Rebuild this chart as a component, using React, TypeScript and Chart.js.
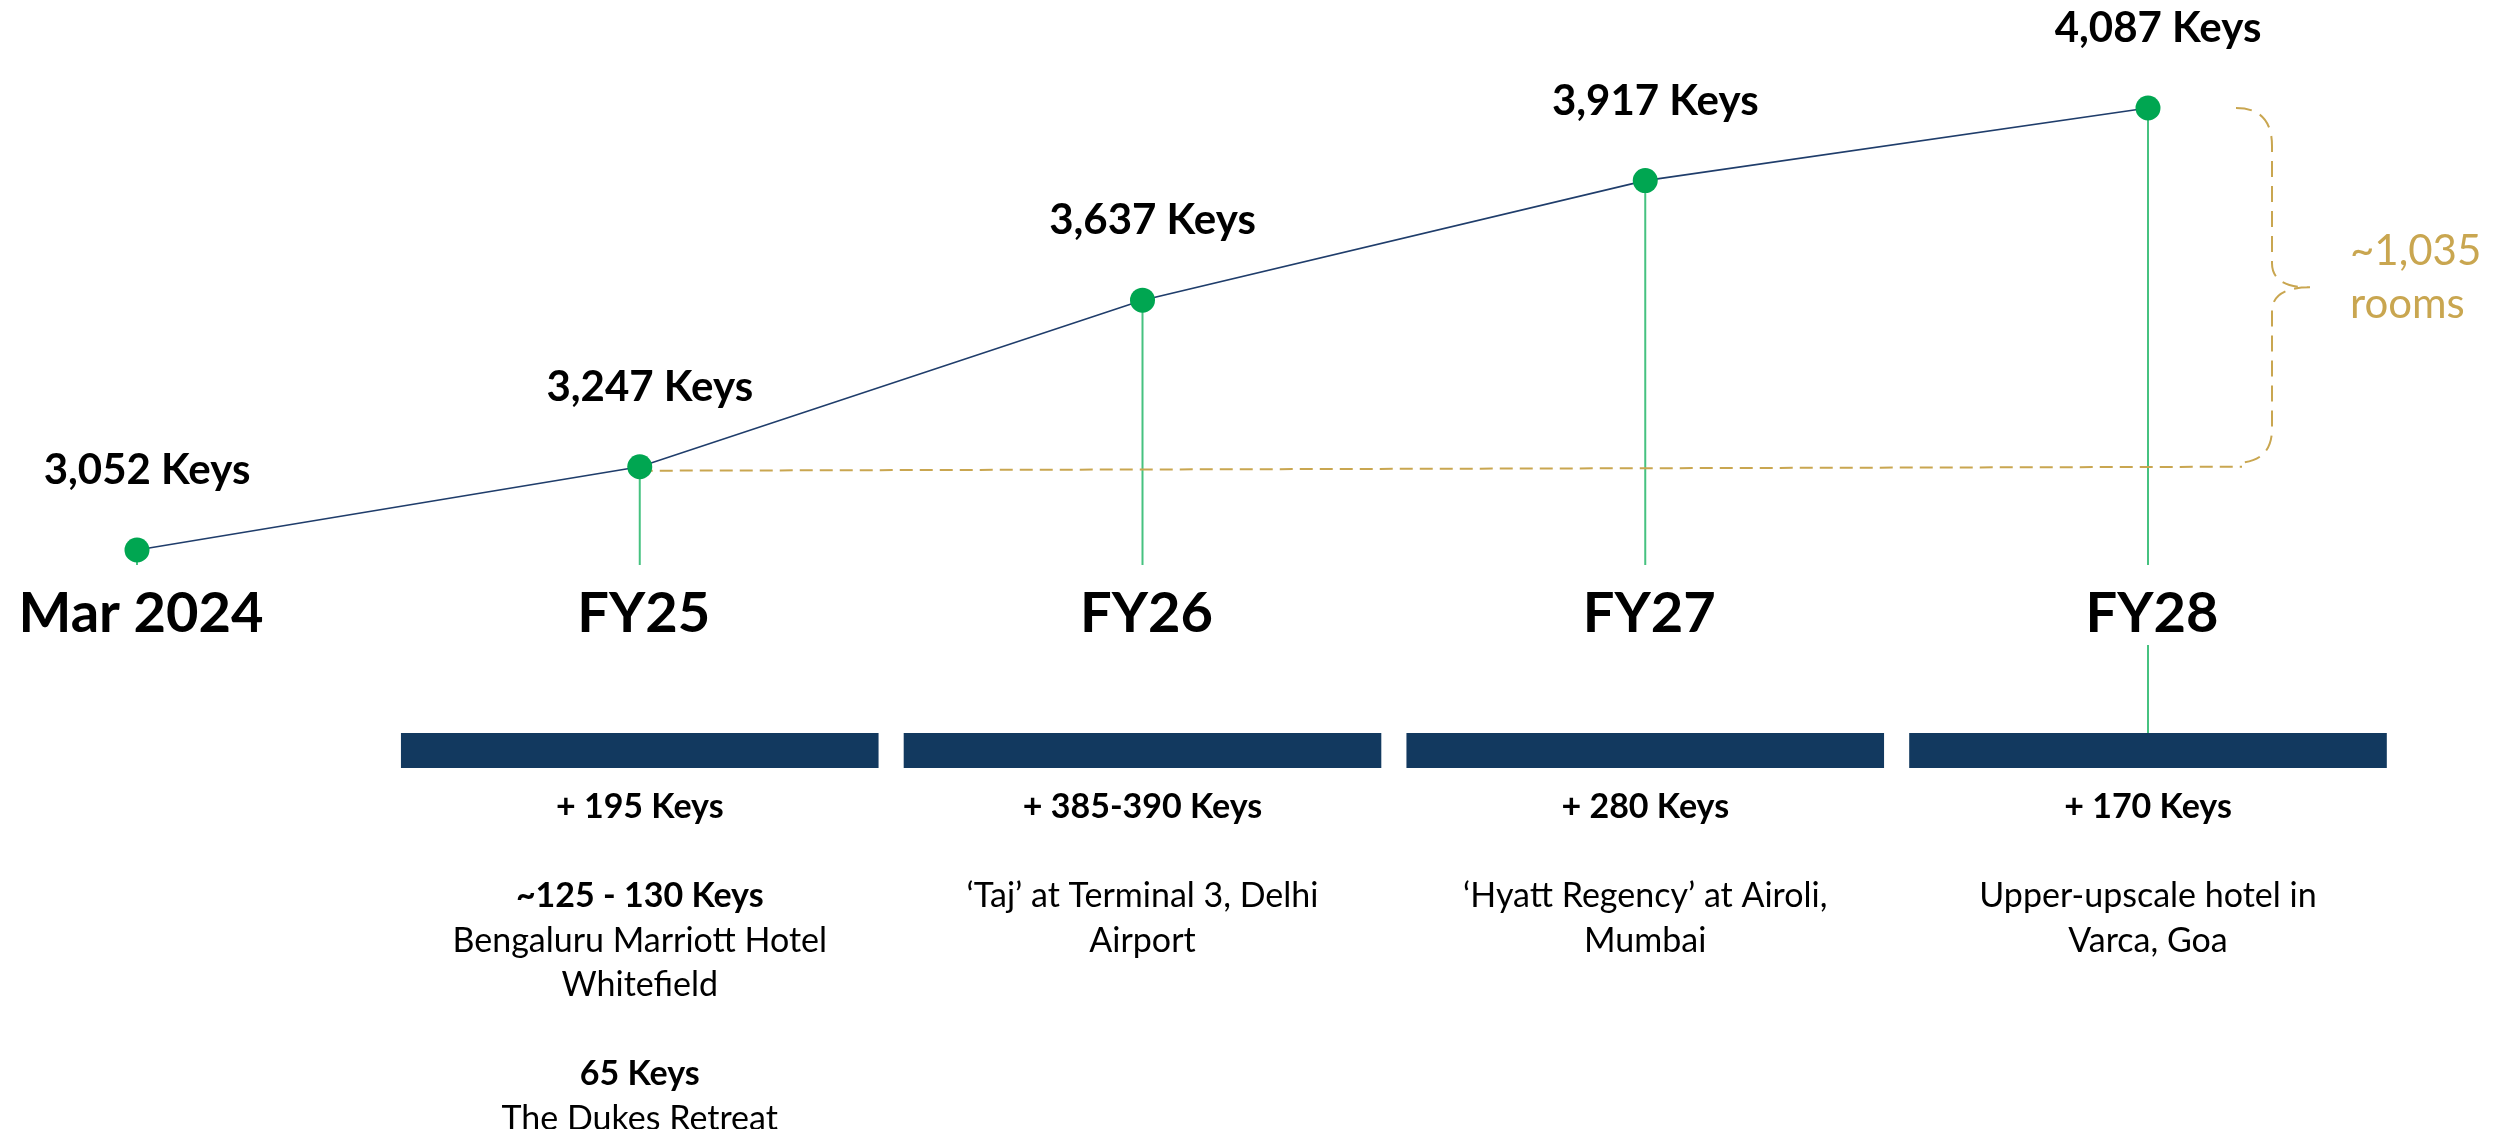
import React, { useEffect, useRef } from 'react';
import { Chart, registerables } from 'chart.js';

Chart.register(...registerables);

// ---------- data ----------
const categories = ['Mar 2024', 'FY25', 'FY26', 'FY27', 'FY28'];
const keyCounts = [3052, 3247, 3637, 3917, 4087];
const addedKeys = ['+ 195 Keys', '+ 385-390 Keys', '+ 280 Keys', '+ 170 Keys'];
// "**" prefix marks a bold line, "" is an empty line
const fy25Projects = ['**~125 - 130 Keys', 'Bengaluru Marriott Hotel', 'Whitefield', '', '**65 Keys', 'The Dukes Retreat'];
const fy26Projects = ['‘Taj’ at Terminal 3, Delhi', 'Airport'];
const fy27Projects = ['‘Hyatt Regency’ at Airoli,', 'Mumbai'];
const fy28Projects = ['Upper-upscale hotel in', 'Varca, Goa'];
const projectLists = [fy25Projects, fy26Projects, fy27Projects, fy28Projects];
const increaseUnit = 'rooms';

// ---------- styles ----------
const FONT = 'Lato, "Open Sans", sans-serif';
const NAVY = '#12395F';
const LINE = '#1F3D6B';
const GREEN = '#00A651';
const STEM = '#46C280';
const GOLD = '#C9A650';

const overlayPlugin = {
  id: 'overlay',
  beforeDatasetsDraw(chart: any) {
    const ctx = chart.ctx as CanvasRenderingContext2D;
    const xs = chart.scales.x;
    const ys = chart.scales.y;
    const px = (i: number) => xs.getPixelForValue(i);
    const py = (i: number) => ys.getPixelForValue(keyCounts[i]);
    const n = keyCounts.length;
    const spacing = px(1) - px(0);

    const STEM_END = 557;
    const BAR_TOP = 725;
    const BAR_H = 35;

    ctx.save();
    // stems
    ctx.strokeStyle = STEM;
    ctx.lineWidth = 2;
    for (let i = 0; i < n; i++) {
      ctx.beginPath();
      ctx.moveTo(px(i), py(i));
      ctx.lineTo(px(i), STEM_END);
      ctx.stroke();
    }
    // connector from last label to its bar
    ctx.beginPath();
    ctx.moveTo(px(n - 1), 637);
    ctx.lineTo(px(n - 1), BAR_TOP);
    ctx.stroke();

    // dashed reference line from FY25 level + brace
    const lastX = px(n - 1);
    const yTop = py(n - 1);
    const yBot = py(1);
    const xv = lastX + 124;
    const x0 = lastX + 88;
    const xt = lastX + 162;
    const mid = (yTop + yBot) / 2;
    const r = 38;
    ctx.strokeStyle = GOLD;
    ctx.lineWidth = 2;
    ctx.setLineDash([13, 7]);
    ctx.beginPath();
    ctx.moveTo(px(1), yBot + 4);
    ctx.lineTo(x0 + 6, yBot);
    ctx.stroke();
    ctx.setLineDash([16, 9]);
    ctx.beginPath();
    ctx.moveTo(x0, yTop);
    ctx.quadraticCurveTo(xv, yTop, xv, yTop + r);
    ctx.lineTo(xv, mid - 24);
    ctx.quadraticCurveTo(xv, mid, xt, mid);
    ctx.moveTo(xt, mid);
    ctx.quadraticCurveTo(xv, mid, xv, mid + 24);
    ctx.lineTo(xv, yBot - r);
    ctx.quadraticCurveTo(xv, yBot - 4, x0, yBot - 4);
    ctx.stroke();
    ctx.setLineDash([]);

    // increase text
    const increase = keyCounts[n - 1] - keyCounts[0];
    ctx.fillStyle = GOLD;
    ctx.font = `42px ${FONT}`;
    ctx.textAlign = 'left';
    ctx.textBaseline = 'alphabetic';
    ctx.fillText('~' + increase.toLocaleString('en-US'), lastX + 202, mid - 22);
    ctx.fillText(increaseUnit, lastX + 202, mid + 31);

    // bars + texts
    const barW = spacing * 0.95;
    for (let i = 1; i < n; i++) {
      const cx = px(i);
      ctx.fillStyle = NAVY;
      ctx.fillRect(cx - barW / 2, BAR_TOP, barW, BAR_H);
      ctx.fillStyle = '#000';
      ctx.textAlign = 'center';
      const LINE_H = 44.5;
      let y = 810;
      ctx.font = `bold 34px ${FONT}`;
      ctx.fillText(addedKeys[i - 1], cx, y);
      y += LINE_H * 2;
      for (const line of projectLists[i - 1]) {
        if (line) {
          const bold = line.startsWith('**');
          ctx.font = `${bold ? 'bold ' : ''}34px ${FONT}`;
          ctx.fillText(bold ? line.slice(2) : line, cx, y);
        }
        y += LINE_H;
      }
    }

    // category labels
    ctx.fillStyle = '#000';
    ctx.font = `bold 56px ${FONT}`;
    ctx.textAlign = 'center';
    for (let i = 0; i < n; i++) {
      ctx.fillText(categories[i], px(i) + 4, 624);
    }
    ctx.restore();
  },
  afterDatasetsDraw(chart: any) {
    const ctx = chart.ctx as CanvasRenderingContext2D;
    const xs = chart.scales.x;
    const ys = chart.scales.y;
    ctx.save();
    ctx.fillStyle = '#000';
    ctx.font = `bold 42px ${FONT}`;
    ctx.textAlign = 'center';
    ctx.textBaseline = 'alphabetic';
    for (let i = 0; i < keyCounts.length; i++) {
      const x = xs.getPixelForValue(i) + 10;
      const y = Math.max(ys.getPixelForValue(keyCounts[i]) - 66, 34);
      ctx.fillText(keyCounts[i].toLocaleString('en-US') + ' Keys', x, y);
    }
    ctx.restore();
  },
};

export default function App() {
  const canvasRef = useRef<HTMLCanvasElement | null>(null);

  useEffect(() => {
    let chart: Chart | null = null;
    let cancelled = false;
    const make = () => {
      if (cancelled || !canvasRef.current) return;
      chart = new Chart(canvasRef.current, {
        type: 'line',
        data: {
          labels: categories,
          datasets: [
            {
              data: keyCounts,
              borderColor: LINE,
              borderWidth: 1.6,
              pointRadius: 12.5,
              pointHoverRadius: 12.5,
              pointBackgroundColor: GREEN,
              pointBorderColor: GREEN,
              pointBorderWidth: 0,
              tension: 0,
              clip: false as any,
            },
          ],
        },
        options: {
          animation: false,
          responsive: true,
          maintainAspectRatio: false,
          layout: { padding: { left: 129, right: 340, top: 100, bottom: 579 } },
          plugins: { legend: { display: false }, tooltip: { enabled: false } },
          scales: {
            x: { type: 'category', display: false, offset: false },
            y: {
              type: 'linear',
              display: false,
              min: Math.min(...keyCounts),
              max: Math.max(...keyCounts),
            },
          },
        },
        plugins: [overlayPlugin],
      });
    };
    const fonts = (document as any).fonts;
    if (fonts && fonts.load) {
      Promise.all([
        fonts.load(`bold 42px Lato`),
        fonts.load(`42px Lato`),
      ]).then(make, make);
    } else {
      make();
    }
    return () => {
      cancelled = true;
      if (chart) chart.destroy();
    };
  }, []);

  return (
    <div style={{ width: '2480px', height: '1121px', position: 'relative' }}>
      <canvas ref={canvasRef} />
    </div>
  );
}
